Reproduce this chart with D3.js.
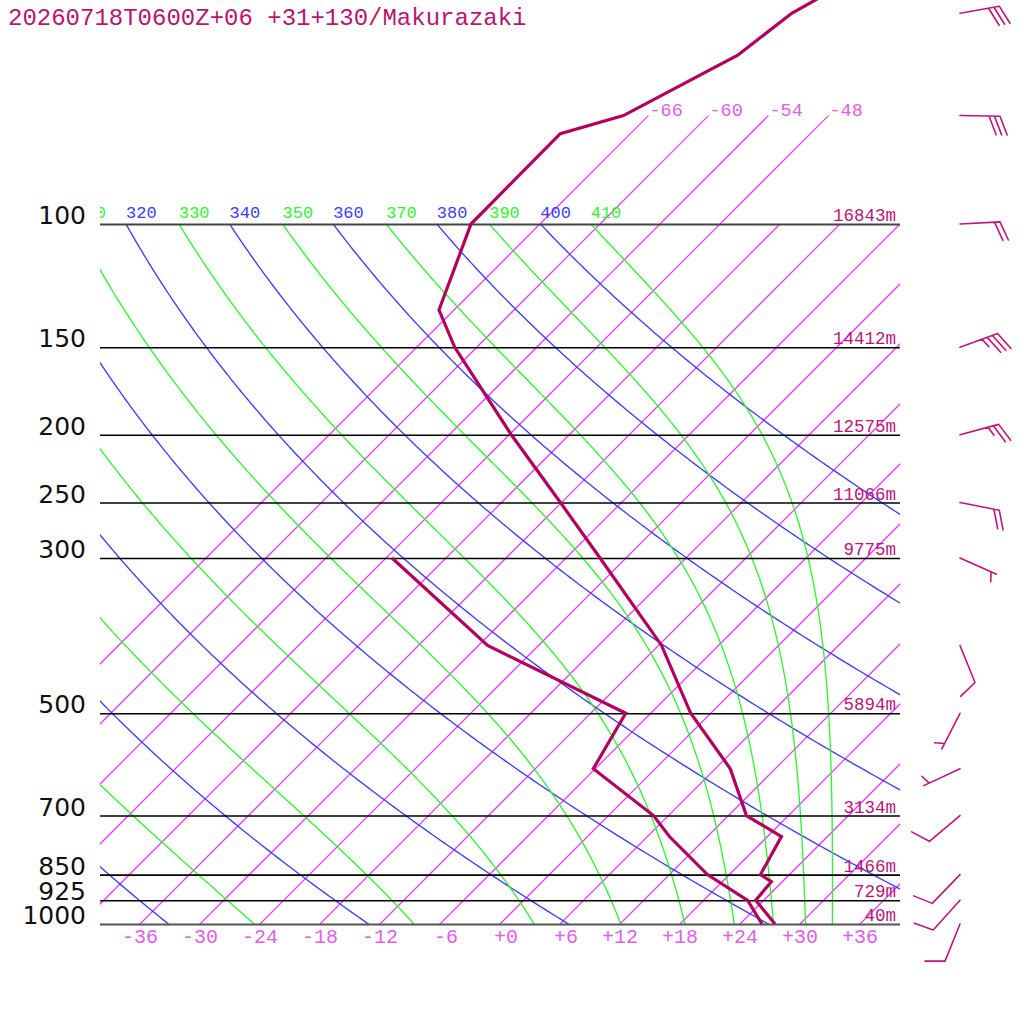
<!DOCTYPE html>
<html><head><meta charset="utf-8">
<script src="https://cdn.jsdelivr.net/npm/d3@7"></script>
<style>body{margin:0;background:#fff}svg{display:block}</style>
</head><body>
<svg id="chart" width="1024" height="1024"></svg>
<script>
// ---------- data ----------
const titleText = "20260718T0600Z+06 +31+130/Makurazaki";
const pressureLevels = [100, 150, 200, 250, 300, 500, 700, 850, 925, 1000];
const pressureLabels = ["100", "150", "200", "250", "300", "500", "700", "850", "925", "1000"];
const heightLabels = ["16843m", "14412m", "12575m", "11066m", "9775m", "5894m", "3134m", "1466m", "729m", "40m"];
const isotherms = [-66, -60, -54, -48, -42, -36, -30, -24, -18, -12, -6, 0, 6, 12, 18, 24, 30, 36, 42];
const upperIsotherms = [-66, -60, -54, -48];
const upperIsothermLabels = ["-66", "-60", "-54", "-48"];
const bottomTicks = [-36, -30, -24, -18, -12, -6, 0, 6, 12, 18, 24, 30, 36];
const bottomTickLabels = ["-36", "-30", "-24", "-18", "-12", "-6", "+0", "+6", "+12", "+18", "+24", "+30", "+36"];
const dryAdiabats = [240, 260, 280, 300, 320, 340, 360, 380, 400];
const moistAdiabats = [250, 270, 290, 310, 330, 350, 370, 390, 410];

const tempP = [45, 50, 57.4, 70, 74.3, 100, 132.7, 150, 200, 250, 300, 400, 500, 600, 700, 750, 850, 870, 925, 1000];
const tempT = [-59.4, -61.9, -63.1, -68.5, -73.0, -72.9, -67.5, -62.2, -47.8, -36.1, -26.6, -11.7, -2.0, 7.5, 13.8, 19.4, 21.1, 22.9, 23.2, 27.5];
const dewP = [300, 400, 500, 600, 700, 750, 850, 925, 1000];
const dewT = [-47.4, -29.1, -8.5, -6.2, 4.5, 8.2, 15.8, 22.4, 26.2];

const windP = [50, 70, 100, 150, 200, 250, 300, 400, 500, 600, 700, 850, 925, 1000];
const windDir = [80, 91, 87, 70, 75, 101, 114, 158, 207, 245, 230, 224, 222, 202];
const windKt = [30, 30, 20, 35, 25, 20, 5, 10, 5, 5, 10, 10, 10, 10];

// ---------- geometry ----------
const svg = d3.select("#chart");
const X0 = 100, X1 = 900, YT = 224, YB = 924;
const y = d3.scaleLog().domain([1000, 100]).range([YB, YT]);
const xT = d3.scaleLinear().domain([-40, 40]).range([X0, X1]);
const sx = (T, p) => xT(T) + (YB - y(p));

const C = {
  iso: "#e63ef6", isoLab: "#e060e8",
  dry: "#3c3cff", moist: "#30f530",
  prof: "#b3005e", hlab: "#b8157a", title: "#b8156e", barb: "#c0157a"
};

const defs = svg.append("defs");
defs.append("clipPath").attr("id", "plotclip").append("rect")
  .attr("x", X0).attr("y", YT).attr("width", X1 - X0).attr("height", YB - YT);
defs.append("clipPath").attr("id", "labclip").append("rect")
  .attr("x", X0).attr("y", 180).attr("width", X1 - X0).attr("height", 60);

const lineGen = d3.line().x(d => sx(d[1], d[0])).y(d => y(d[0]));
const grid = svg.append("g").attr("class", "grid").attr("clip-path", "url(#plotclip)");

// isotherms (as paths)
grid.selectAll(".isoLine").data(isotherms).join("path")
  .attr("class", "isoLine")
  .attr("d", T => lineGen([[1000, T], [100, T]]))
  .attr("fill", "none").attr("stroke", C.iso).attr("stroke-width", 1.25);

// upper isotherm extension to 70 hPa
const upG = svg.append("g").attr("class", "upper");
upG.selectAll(".uisoLine").data(upperIsotherms).join("path")
  .attr("class", "uisoLine")
  .attr("d", T => lineGen([[100, T], [70, T]]))
  .attr("fill", "none").attr("stroke", C.iso).attr("stroke-width", 1.25);
upG.selectAll(".uisoText").data(upperIsotherms).join("text")
  .attr("class", "uisoText")
  .attr("x", d => sx(d, 70) + 1).attr("y", y(70))
  .attr("font-family", "Liberation Mono, monospace").attr("font-size", 18.5)
  .attr("fill", C.isoLab).text((d, i) => upperIsothermLabels[i]);

// pressure sampling grid
const pGrid = d3.range(0, 181).map(i => 1000 * Math.pow(0.1, i / 180));
const K = 273.15;

// dry adiabats
const dryT = (th, p) => th * Math.pow(p / 1000, 0.2857) - K;
grid.selectAll(".dryLine").data(dryAdiabats).join("path")
  .attr("class", "dryLine")
  .attr("d", th => lineGen(pGrid.map(p => [p, dryT(th, p)])))
  .attr("fill", "none").attr("stroke", C.dry).attr("stroke-width", 1.35);

// moist (pseudo) adiabats via Bolton theta-e
function thetaE(T, p) {
  const tc = T - K;
  const es = 6.112 * Math.exp(17.67 * tc / (tc + 243.5));
  const r = 0.622 * es / Math.max(p - es, 1e-3);
  return T * Math.pow(1000 / p, 0.2854 * (1 - 0.28 * r)) * Math.exp((3376 / T - 2.54) * r * (1 + 0.81 * r));
}
function moistT(the, p) {
  let lo = 120, hi = 340;
  for (let k = 0; k < 60; k++) {
    const mid = (lo + hi) / 2;
    if (thetaE(mid, p) > the) hi = mid; else lo = mid;
  }
  return (lo + hi) / 2 - K;
}
grid.selectAll(".moistLine").data(moistAdiabats).join("path")
  .attr("class", "moistLine")
  .attr("d", th => lineGen(pGrid.map(p => [p, moistT(th, p)])))
  .attr("fill", "none").attr("stroke", C.moist).attr("stroke-width", 1.35);

// theta labels at 100 hPa (only those that reach into the plot)
const labG = svg.append("g").attr("class", "thlabels").attr("clip-path", "url(#labclip)")
  .attr("font-family", "Liberation Mono, monospace").attr("font-size", 17);
const dryLab = dryAdiabats.filter(d => sx(dryT(d, 100), 100) > 60);
const moistLab = moistAdiabats.filter(d => sx(moistT(d, 100), 100) > 60);
labG.selectAll(".dryText").data(dryLab).join("text")
  .attr("class", "dryText")
  .attr("x", d => sx(dryT(d, 100), 100)).attr("y", 218)
  .attr("fill", C.dry).text(d => d);
labG.selectAll(".moistText").data(moistLab).join("text")
  .attr("class", "moistText")
  .attr("x", d => sx(moistT(d, 100), 100)).attr("y", 218)
  .attr("fill", C.moist).text(d => d);

// pressure lines
const plG = svg.append("g").attr("class", "plines");
plG.selectAll(".pLine").data(pressureLevels).join("path")
  .attr("class", "pLine")
  .attr("d", p => `M${X0},${y(p) + 0.5}H${X1}`)
  .attr("fill", "none")
  .attr("stroke", d => (d === 100 ? "#444" : d === 1000 ? "#555" : "#000"))
  .attr("stroke-width", d => (d === 100 || d === 1000) ? 2.2 : 1.6);

// pressure labels
plG.selectAll(".pText").data(pressureLevels).join("text")
  .attr("class", "pText")
  .attr("x", 86).attr("y", d => y(d))
  .attr("text-anchor", "end")
  .attr("font-family", "DejaVu Sans, sans-serif").attr("font-size", 25)
  .attr("fill", "#111").text((d, i) => pressureLabels[i]);

// height labels
plG.selectAll(".hText").data(pressureLevels).join("text")
  .attr("class", "hText")
  .attr("x", 896).attr("y", d => y(d) - 3)
  .attr("text-anchor", "end")
  .attr("font-family", "Liberation Mono, monospace").attr("font-size", 17.5)
  .attr("fill", C.hlab).text((d, i) => heightLabels[i]);

// bottom temperature labels
svg.append("g").attr("class", "btick").selectAll(".btText").data(bottomTicks).join("text")
  .attr("class", "btText")
  .attr("x", d => xT(d) + 18).attr("y", 943)
  .attr("text-anchor", "end")
  .attr("font-family", "Liberation Mono, monospace").attr("font-size", 20)
  .attr("fill", C.isoLab).text((d, i) => bottomTickLabels[i]);

// title
svg.append("text").attr("class", "title").attr("x", 8).attr("y", 25)
  .attr("font-family", "Liberation Mono, monospace").attr("font-size", 24)
  .attr("fill", C.title).text(titleText);

// profiles
const prof = d3.line().x(d => sx(d[1], d[0])).y(d => y(d[0]));
svg.append("path").attr("class", "tempLine")
  .attr("d", prof(tempP.map((p, i) => [p, tempT[i]])))
  .attr("fill", "none").attr("stroke", C.prof).attr("stroke-width", 3.2);
svg.append("path").attr("class", "dewLine")
  .attr("d", prof(dewP.map((p, i) => [p, dewT[i]])))
  .attr("fill", "none").attr("stroke", C.prof).attr("stroke-width", 3.2);

// wind barbs
const bg = svg.append("g").attr("class", "barbs")
  .attr("stroke", C.barb).attr("stroke-width", 1.6)
  .attr("fill", "none").attr("stroke-linecap", "round");
const rot = 68 * Math.PI / 180;
windP.forEach((p, i) => {
  const a = windDir[i] * Math.PI / 180, kt = windKt[i];
  const ox = 960, oy = y(p);
  const ux = Math.sin(a), uy = -Math.cos(a);
  const ex = ox + 40 * ux, ey = oy + 40 * uy;
  const bx = ux * Math.cos(rot) - uy * Math.sin(rot);
  const by = ux * Math.sin(rot) + uy * Math.cos(rot);
  let d = `M${ox},${oy}L${ex},${ey}`;
  const nFull = Math.floor(kt / 10), nHalf = Math.round((kt % 10) / 5);
  let pos = 0;
  for (let k = 0; k < nFull; k++) {
    const px = ex - pos * ux, py = ey - pos * uy;
    d += `M${px},${py}l${20 * bx},${20 * by}`;
    pos += 5.5;
  }
  if (nHalf) {
    if (pos === 0) pos = 6;
    const px = ex - pos * ux, py = ey - pos * uy;
    d += `M${px},${py}l${10 * bx},${10 * by}`;
  }
  bg.append("path").attr("class", "barb").attr("d", d);
});
</script>
</body></html>
